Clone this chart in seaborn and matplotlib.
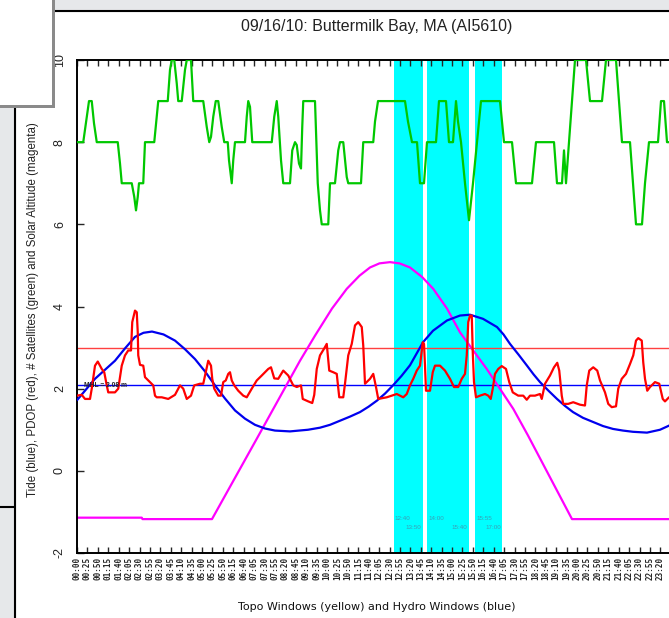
import matplotlib
matplotlib.use("Agg")
import matplotlib.pyplot as plt
import seaborn as sns
from matplotlib.patches import Rectangle
from matplotlib.lines import Line2D

W, H = 669, 618

# time axis is hours since midnight
sat_t = [0.0, 0.25, 0.39, 0.48, 0.59, 0.68, 0.79, 1.63, 1.72, 1.79, 2.19, 2.29, 2.36, 2.43, 2.48,
         2.65, 2.72, 3.09, 3.19, 3.25, 3.63, 3.72, 3.79, 3.89, 3.99, 4.05, 4.19, 4.32, 4.39, 4.56,
         4.65, 5.05, 5.19, 5.29, 5.36, 5.45, 5.55, 5.65, 5.79, 5.89, 6.03, 6.08, 6.19, 6.25, 6.32,
         6.72, 6.79, 6.85, 6.92, 7.01, 7.79, 7.89, 7.99, 8.05, 8.16, 8.25, 8.52, 8.61, 8.72, 8.79,
         8.88, 8.96, 9.01, 9.05, 9.52, 9.63, 9.72, 9.79, 10.05, 10.12, 10.32, 10.45, 10.52, 10.65,
         10.79, 10.85, 11.36, 11.45, 11.85, 11.92, 12.04, 13.12, 13.24, 13.4, 13.6, 13.72, 13.88,
         14.0, 14.36, 14.48, 14.76, 14.88, 15.04, 15.16, 15.24, 15.36, 15.52, 15.68, 15.84, 16.0,
         16.16, 16.92, 17.08, 17.4, 17.56, 18.2, 18.36, 19.08, 19.2, 19.4, 19.48, 19.56, 19.68,
         19.8, 19.92, 20.36, 20.52, 21.0, 21.16, 21.56, 21.68, 21.8, 22.12, 22.24, 22.36, 22.6,
         22.72, 22.88, 23.24, 23.36, 23.48, 23.6, 24.0]
sat_v = [8, 8, 8.62, 9, 9, 8.46, 8, 8, 7.48, 7, 7, 6.67, 6.34, 6.67, 7,
         7, 8, 8, 8.62, 9, 9, 9.76, 10, 10, 9.43, 9, 9, 9.76, 10, 10,
         9, 9, 8.37, 8, 8.13, 8.62, 9, 9, 8.37, 8, 8, 7.56, 7, 7.56, 8,
         8, 8.62, 9, 8.86, 8, 8, 8.62, 9, 8.62, 7.56, 7, 7, 7.8, 8, 7.93,
         7.48, 7.36, 8.37, 9, 9, 7, 6.34, 6, 6, 7, 7, 7.8, 8, 8,
         7.15, 7, 7, 8, 8, 8.5, 9, 9, 8.5, 8, 8, 7, 7,
         8, 8, 9, 9, 8, 8, 9, 8.5, 8, 7, 6.1, 7, 8,
         9, 9, 8, 8, 7, 7, 8, 8, 7, 7, 7.8, 7, 8,
         9, 10, 10, 9, 9, 10, 10, 9, 8, 8, 7, 6, 6,
         7, 8, 8, 9, 9, 8, 8]

pdop_t = [0.0, 0.19, 0.32, 0.52, 0.59, 0.72, 0.83, 0.99, 1.09, 1.19, 1.25, 1.52, 1.65, 1.79,
          1.92, 2.05, 2.16, 2.21, 2.32, 2.39, 2.43, 2.45, 2.52, 2.65, 2.72, 2.92, 3.05, 3.12,
          3.19, 3.39, 3.65, 3.92, 4.12, 4.25, 4.39, 4.56, 4.69, 4.92, 5.05, 5.15, 5.25, 5.36,
          5.41, 5.49, 5.65, 5.76, 5.85, 5.95, 6.05, 6.12, 6.19, 6.29, 6.45, 6.65, 6.79, 6.99,
          7.19, 7.39, 7.65, 7.76, 7.89, 8.05, 8.25, 8.45, 8.65, 8.79, 8.96, 9.03, 9.25, 9.41,
          9.49, 9.59, 9.72, 9.88, 9.99, 10.09, 10.25, 10.39, 10.49, 10.65, 10.72, 10.85, 10.99,
          11.12, 11.25, 11.39, 11.45, 11.52, 11.72, 11.85, 11.96, 12.05, 12.39, 12.59, 12.79,
          13.05, 13.19, 13.32, 13.45, 13.59, 13.72, 13.83, 13.88, 13.92, 13.96, 14.12, 14.23,
          14.32, 14.52, 14.72, 14.92, 15.08, 15.25, 15.39, 15.52, 15.59, 15.65, 15.72, 15.79,
          15.83, 15.88, 15.96, 16.12, 16.32, 16.45, 16.55, 16.63, 16.72, 16.85, 16.99, 17.16,
          17.29, 17.43, 17.65, 17.85, 17.99, 18.12, 18.32, 18.52, 18.59, 18.72, 18.92, 19.08,
          19.21, 19.29, 19.39, 19.45, 19.65, 19.85, 20.12, 20.32, 20.39, 20.49, 20.65, 20.81,
          20.92, 21.12, 21.25, 21.39, 21.56, 21.65, 21.79, 21.96, 22.12, 22.25, 22.36, 22.45,
          22.59, 22.65, 22.72, 22.81, 22.92, 23.12, 23.29, 23.43, 23.52, 23.68, 24.0]
pdop_v = [1.83, 1.85, 1.75, 1.75, 2.0, 2.56, 2.66, 2.48, 2.40, 2.08, 1.91, 1.91, 2.0, 2.56,
          2.81, 2.93, 2.93, 3.62, 3.90, 3.86, 3.37, 2.81, 2.58, 2.56, 2.28, 2.16, 2.08, 1.83,
          1.79, 1.79, 1.75, 1.85, 2.08, 2.0, 1.75, 1.83, 2.08, 2.12, 2.12, 2.40, 2.68, 2.56,
          2.24, 2.0, 1.83, 1.83, 2.16, 2.20, 2.36, 2.40, 2.20, 2.08, 1.95, 1.83, 1.79, 2.0,
          2.20, 2.32, 2.48, 2.52, 2.25, 2.24, 2.44, 2.32, 2.08, 2.04, 2.08, 1.75, 1.69, 1.65,
          1.85, 2.48, 2.81, 2.97, 3.09, 2.44, 2.40, 2.36, 1.79, 1.79, 2.12, 2.81, 3.09,
          3.54, 3.62, 3.50, 3.05, 2.12, 2.24, 2.36, 2.04, 1.75, 1.79, 1.83, 1.87,
          1.79, 1.87, 2.08, 2.24, 2.44, 2.56, 3.13, 3.09, 2.56, 1.95, 1.95, 2.40,
          2.56, 2.56, 2.44, 2.24, 2.04, 2.04, 2.24, 2.36, 2.81, 3.62, 3.78, 3.78,
          2.89, 2.16, 1.79, 1.83, 1.87, 1.83, 1.75, 2.0, 2.36, 2.48, 2.55, 2.48,
          2.16, 1.91, 1.83, 1.83, 1.73, 1.83, 1.83, 1.87, 1.75, 2.12, 2.32, 2.52,
          2.63, 2.44, 1.83, 1.63, 1.63, 1.67, 1.61, 1.59, 2.08, 2.44, 2.52, 2.44,
          2.20, 1.91, 1.63, 1.55, 1.57, 2.0, 2.24, 2.36, 2.60, 2.81, 3.17, 3.23,
          3.17, 2.64, 2.24, 1.95, 2.04, 2.16, 2.12, 1.75, 1.69, 1.79, 1.80]

tide_t = [0.0, 0.72, 1.52, 1.92, 2.32, 2.66, 3.0, 3.46, 3.92, 4.32, 4.72, 5.12, 5.52, 5.92, 6.32,
          6.72, 7.12, 7.52, 7.92, 8.52, 9.24, 9.72, 10.12, 10.52, 10.92, 11.32, 11.66, 12.0,
          12.32, 12.64, 12.98, 13.32, 13.84, 14.24, 14.8, 15.32, 15.72, 16.24, 16.8, 17.06,
          17.32, 17.66, 18.0, 18.26, 18.52, 18.86, 19.2, 19.52, 19.84, 20.24, 20.64, 21.04,
          21.44, 21.84, 22.24, 22.8, 23.32, 23.68, 24.0]
tide_v = [1.72, 2.24, 2.68, 2.98, 3.26, 3.36, 3.39, 3.32, 3.17, 2.96, 2.72, 2.42, 2.08, 1.76, 1.47,
          1.27, 1.12, 1.03, 0.98, 0.96, 1.0, 1.05, 1.12, 1.22, 1.32, 1.43, 1.56, 1.71,
          1.88, 2.08, 2.31, 2.57, 3.13, 3.41, 3.66, 3.78, 3.80, 3.70, 3.50, 3.32,
          3.09, 2.83, 2.56, 2.35, 2.16, 1.95, 1.75, 1.58, 1.43, 1.29, 1.19, 1.09,
          1.02, 0.98, 0.95, 0.93, 1.0, 1.1, 1.2]

sun_t = [0.0, 2.59, 2.62, 5.4, 7.19, 8.92, 9.52, 10.2, 10.79, 11.3, 11.72, 12.1, 12.52, 12.9,
         13.32, 13.8, 14.25, 14.8, 15.32, 16.39, 17.45, 18.04, 19.8, 24.0]
sun_v = [-1.14, -1.14, -1.175, -1.175, 0.78, 2.68, 3.29, 3.95, 4.43, 4.75, 4.95, 5.05, 5.08, 5.05,
         4.95, 4.72, 4.43, 3.95, 3.37, 2.48, 1.51, 0.86, -1.175, -1.175]

mhl = 2.08
pdop_limit = 3.0
win_start = ["12:40", "14:00", "15:55"]
win_end = ["13:50", "15:40", "17:00"]

tick_min = list(range(0, 24 * 60, 25))
tick_labels = ["%02d:%02d" % (m // 60, m % 60) for m in tick_min]
tick_labels[-1] = ""  # sits past the right edge of the window


def hrs(s):
    hh, mm = s.split(":")
    return int(hh) + int(mm) / 60


def fx(px):
    return px / W


def fy(py):
    return 1 - py / H


sns.set_style("white")
plt.rcParams["font.family"] = ["Liberation Sans", "DejaVu Sans"]

fig = plt.figure(figsize=(W / 100, H / 100), dpi=100)
fig.patch.set_facecolor("white")

ax = fig.add_axes([fx(77), fy(553), 600 / W, 493 / H])
ax.set_facecolor("white")

for a, b in zip(win_start, win_end):
    ax.axvspan(hrs(a), hrs(b), color="#00ffff", lw=0, zorder=0)
    ax.text(hrs(a) + 0.05, -1.15, a, fontsize=4.5, color="#3a9eb5", va="center", ha="left")
    ax.text(hrs(b) - 0.05, -1.38, b, fontsize=4.5, color="#3a9eb5", va="center", ha="right")

ax.axhline(pdop_limit, color="#ff4040", lw=1.0, zorder=1)
ax.axhline(mhl, color="#0000ff", lw=1.0, zorder=1)
ax.text(0.3, mhl, "MHL = %.2f m" % mhl, fontsize=4.8, fontweight="bold", va="center", ha="left", zorder=5)

sns.lineplot(x=sun_t, y=sun_v, ax=ax, color="#ff00ff", lw=1.6, estimator=None, sort=False, zorder=2)
sns.lineplot(x=tide_t, y=tide_v, ax=ax, color="#0000ee", lw=1.6, estimator=None, sort=False, zorder=3)
sns.lineplot(x=pdop_t, y=pdop_v, ax=ax, color="#ff0000", lw=1.6, estimator=None, sort=False, zorder=4)
sns.lineplot(x=sat_t, y=sat_v, ax=ax, color="#00c800", lw=1.6, estimator=None, sort=False, zorder=4)

ax.set_xlim(0, 24)
ax.set_ylim(-2, 10)
ax.set_xticks([m / 60 for m in tick_min])
ax.set_xticklabels(tick_labels, rotation=90, fontsize=5.5, fontweight="bold",
                   family="DejaVu Sans Mono")
ax.set_yticks(range(-2, 11, 2))
ax.set_yticklabels([str(v) for v in range(-2, 11, 2)], rotation=90, va="center", fontsize=9,
                   color="#222222")
ax.tick_params(axis="x", direction="in", top=True, bottom=True, length=4, width=1, pad=3)
ax.tick_params(axis="y", direction="in", left=True, length=5, width=1, pad=8)
for s in ax.spines.values():
    s.set_color("black")
    s.set_linewidth(1.4)
ax.set_xlabel("")
ax.set_ylabel("")

fig.text(fx(377), fy(27), "09/16/10: Buttermilk Bay, MA (AI5610)", ha="center", va="center",
         fontsize=11.5, color="#222222")
fig.text(fx(377), fy(607), "Topo Windows (yellow) and Hydro Windows (blue)", ha="center",
         va="center", fontsize=8, family="DejaVu Sans", color="#111111")
fig.text(fx(33), fy(310),
         "Tide (blue), PDOP (red), # Satellites (green) and Solar Altitude (magenta)",
         rotation=90, ha="center", va="center", fontsize=8.3, color="#222222")

# window frame around the chart
fig.patches.append(Rectangle((0, 0), fx(15), 1, transform=fig.transFigure, color="#e6e8ea", zorder=5))
fig.patches.append(Rectangle((0, fy(11)), 1, 11 / H, transform=fig.transFigure, color="#e6e8ea", zorder=5))
fig.lines.append(Line2D([fx(15), fx(15)], [0, 1], transform=fig.transFigure, color="black", lw=1.5, zorder=6))
fig.lines.append(Line2D([0, fx(15)], [fy(507), fy(507)], transform=fig.transFigure, color="black", lw=1.5, zorder=6))
fig.lines.append(Line2D([0, 1], [fy(11), fy(11)], transform=fig.transFigure, color="black", lw=1.5, zorder=6))
fig.patches.append(Rectangle((0, fy(108)), fx(55), 108 / H, transform=fig.transFigure,
                             facecolor="#8a8a8a", edgecolor="none", zorder=7))
fig.patches.append(Rectangle((0, fy(105)), fx(52), 105 / H, transform=fig.transFigure,
                             facecolor="white", edgecolor="none", zorder=8))

fig.savefig("out.png", dpi=100)
